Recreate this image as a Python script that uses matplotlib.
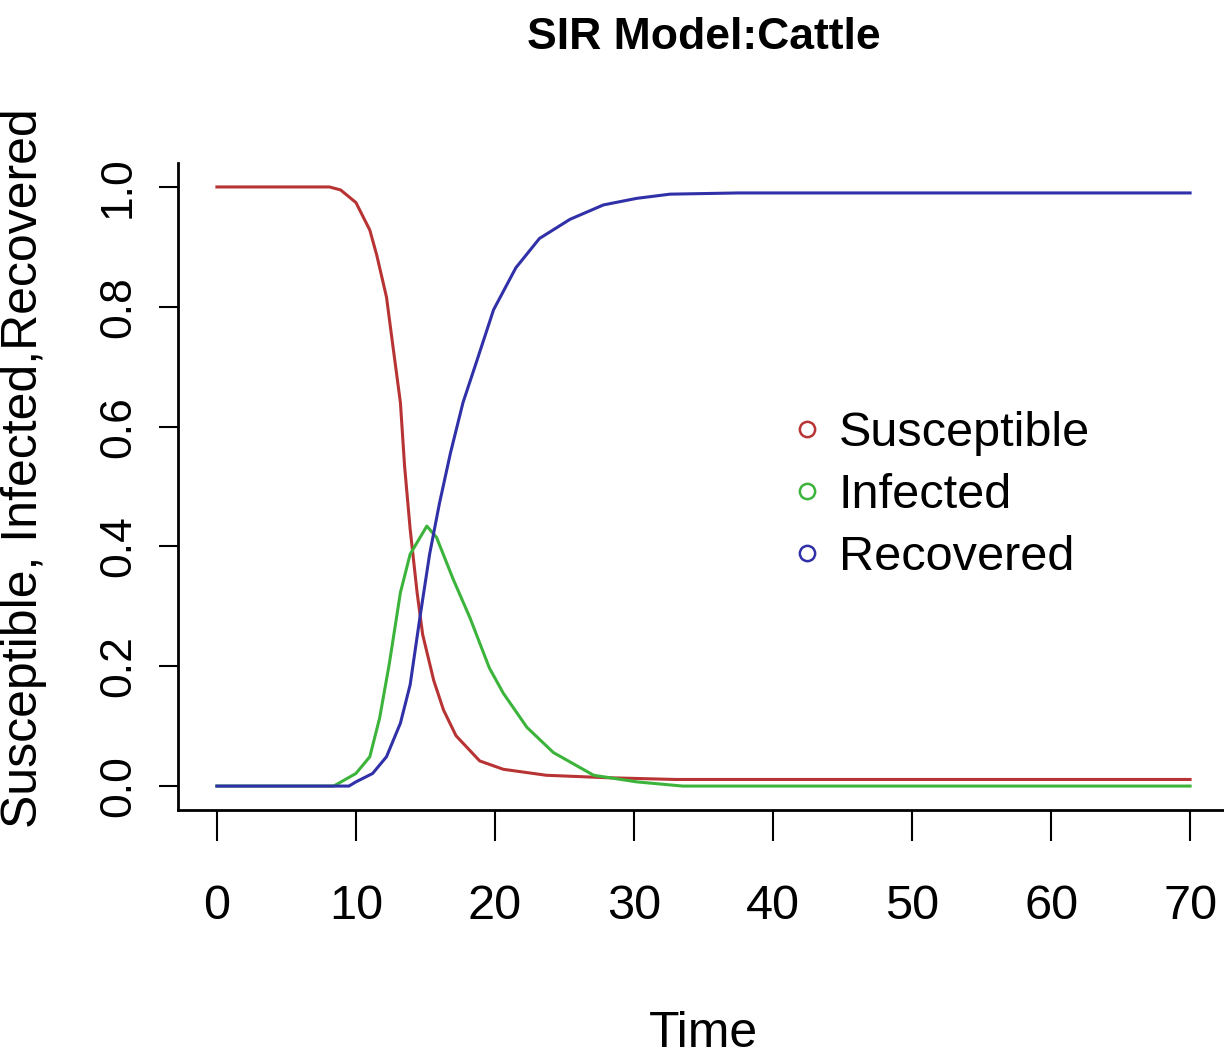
import matplotlib
matplotlib.use('Agg')
import matplotlib.pyplot as plt
from matplotlib.lines import Line2D

# values
s_time = [0, 8.1, 8.9, 10.0, 11.0, 11.5, 12.2, 12.6, 13.2, 13.5, 13.9, 14.4, 14.8, 15.6, 16.3, 17.2, 18.9, 20.6, 23.7, 28, 33, 70]
s_vals = [1.0, 1.0, 0.995, 0.974, 0.928, 0.886, 0.816, 0.745, 0.64, 0.534, 0.429, 0.323, 0.253, 0.176, 0.127, 0.084, 0.042, 0.028, 0.018, 0.014, 0.011, 0.011]

i_time = [0, 8.4, 10.0, 11.0, 11.7, 12.4, 13.2, 13.9, 15.1, 15.8, 17.0, 18.2, 19.6, 20.6, 22.3, 24.2, 27.1, 30.2, 33.5, 70]
i_vals = [0, 0, 0.021, 0.049, 0.113, 0.204, 0.323, 0.387, 0.434, 0.415, 0.345, 0.281, 0.197, 0.155, 0.098, 0.056, 0.018, 0.007, 0.0, 0.0]

r_time = [0, 9.5, 10.0, 11.2, 12.2, 13.2, 13.9, 14.6, 15.3, 16.0, 16.8, 17.7, 18.7, 19.9, 21.5, 23.2, 25.4, 27.8, 30.2, 32.6, 37.5, 70]
r_vals = [0, 0, 0.007, 0.021, 0.049, 0.105, 0.169, 0.281, 0.387, 0.471, 0.556, 0.64, 0.71, 0.795, 0.865, 0.914, 0.946, 0.97, 0.981, 0.988, 0.99, 0.99]

labels = ['Susceptible', 'Infected', 'Recovered']
colors = ['#b83434', '#3cb43c', '#3030a8']
x_ticks = [0, 10, 20, 30, 40, 50, 60, 70]
y_ticks = [0.0, 0.2, 0.4, 0.6, 0.8, 1.0]

font = ['Liberation Sans', 'DejaVu Sans']
plt.rcParams['font.family'] = font

fig = plt.figure(figsize=(12.24, 10.55), dpi=100)
ax = fig.add_axes([0.1454, 0.2322, 0.8587, 0.6133])

series = [(s_time, s_vals), (i_time, i_vals), (r_time, r_vals)]
for (t, v), c in zip(series, colors):
    ax.plot(t, v, color=c, lw=2.2)

ax.set_xlim(-2.8, 72.8)
ax.set_ylim(-0.04, 1.04)

for side in ['top', 'right']:
    ax.spines[side].set_visible(False)
for side in ['left', 'bottom']:
    ax.spines[side].set_linewidth(2.0)

ax.set_xticks(x_ticks)
ax.set_xticklabels([str(x) for x in x_ticks], fontsize=35)
ax.set_yticks(y_ticks)
ax.set_yticklabels(['%.1f' % y for y in y_ticks], fontsize=32, rotation=90, va='center')
ax.tick_params(axis='x', length=22, width=1.5, pad=31)
ax.tick_params(axis='y', length=14, width=1.5, pad=14)

ax.set_title('SIR Model:Cattle', fontsize=32, fontweight='bold', pad=82)
ax.set_xlabel('Time', fontsize=36)
ax.xaxis.set_label_coords(0.5, -0.311)
ax.set_ylabel('Susceptible, Infected,Recovered', fontsize=36)
ax.yaxis.set_label_coords(-0.1246, 0.5286)

handles = [Line2D([], [], ls='none', marker='o', markersize=11, markerfacecolor='none',
                  markeredgecolor=c, markeredgewidth=1.8) for c in colors]
ax.legend(handles, labels, loc='center left', bbox_to_anchor=(0.564, 0.486), frameon=False,
          fontsize=35, handlelength=0.5, handletextpad=0.4,
          labelspacing=0.35, borderpad=0)

fig.savefig('out.png', dpi=100)
